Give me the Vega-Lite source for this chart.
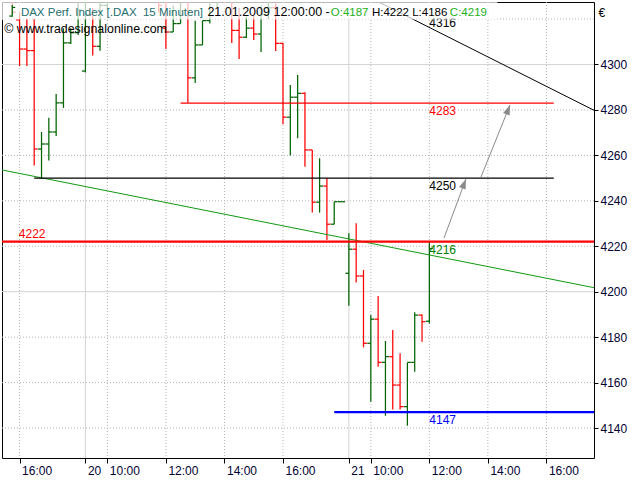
{
  "$schema": "https://vega.github.io/schema/vega-lite/v6.json",
  "width": 592,
  "height": 456,
  "autosize": {"type": "none"},
  "padding": {"left": 2, "top": 2, "right": 46, "bottom": 22},
  "background": "white",
  "config": {"view": {"stroke": "black", "strokeWidth": 1}},
  "datasets": {
    "bars": [
      {"i": -57, "o": 4329, "h": 4331, "l": 4322, "c": 4323},
      {"i": -56, "o": 4319.6, "h": 4323, "l": 4299.3, "c": 4306.8},
      {"i": -55, "o": 4306.8, "h": 4320, "l": 4299.3, "c": 4306.1},
      {"i": -54, "o": 4306.1, "h": 4320, "l": 4255.5, "c": 4262.8},
      {"i": -53, "o": 4262.8, "h": 4270.3, "l": 4249.6, "c": 4265.0},
      {"i": -52, "o": 4265.0, "h": 4276.5, "l": 4257.7, "c": 4270.3},
      {"i": -51, "o": 4270.3, "h": 4287.0, "l": 4268.5, "c": 4283.1},
      {"i": -50, "o": 4283.1, "h": 4315.9, "l": 4280.9, "c": 4309.5},
      {"i": -49, "o": 4309.5, "h": 4316, "l": 4309, "c": 4314},
      {"i": -48, "o": 4314, "h": 4329, "l": 4313, "c": 4324},
      {"i": -47, "o": 4297.1, "h": 4330, "l": 4296.5, "c": 4322},
      {"i": -46, "o": 4322, "h": 4325, "l": 4303.9, "c": 4308},
      {"i": -45, "o": 4308, "h": 4330, "l": 4306, "c": 4326},
      {"i": -44, "o": 4326, "h": 4338, "l": 4324, "c": 4335},
      {"i": -43, "o": 4335, "h": 4340, "l": 4330, "c": 4333},
      {"i": -42, "o": 4333, "h": 4342, "l": 4331, "c": 4340},
      {"i": -41, "o": 4340, "h": 4344, "l": 4334, "c": 4336},
      {"i": -40, "o": 4336, "h": 4339, "l": 4329, "c": 4331},
      {"i": -39, "o": 4331, "h": 4337, "l": 4328, "c": 4335},
      {"i": -38, "o": 4335, "h": 4338, "l": 4329, "c": 4332},
      {"i": -37, "o": 4332, "h": 4334, "l": 4323, "c": 4326},
      {"i": -36, "o": 4316, "h": 4330, "l": 4306.8, "c": 4314.3},
      {"i": -35, "o": 4314.3, "h": 4326, "l": 4314.3, "c": 4318},
      {"i": -34, "o": 4318, "h": 4332, "l": 4318, "c": 4329},
      {"i": -33, "o": 4329, "h": 4331, "l": 4283.2, "c": 4294.1},
      {"i": -32, "o": 4294.1, "h": 4319.3, "l": 4291.9, "c": 4308.6},
      {"i": -31, "o": 4308.6, "h": 4319.3, "l": 4308.6, "c": 4319.3},
      {"i": -30, "o": 4319.3, "h": 4332, "l": 4318, "c": 4328},
      {"i": -29, "o": 4328, "h": 4336, "l": 4325, "c": 4333},
      {"i": -28, "o": 4333, "h": 4337, "l": 4327, "c": 4330},
      {"i": -27, "o": 4330, "h": 4333, "l": 4309.5, "c": 4315},
      {"i": -26, "o": 4315, "h": 4325, "l": 4302.4, "c": 4312},
      {"i": -25, "o": 4312, "h": 4321, "l": 4311.7, "c": 4316},
      {"i": -24, "o": 4316, "h": 4322, "l": 4310.8, "c": 4313.4},
      {"i": -23, "o": 4313.4, "h": 4326, "l": 4305.5, "c": 4322},
      {"i": -22, "o": 4322, "h": 4330, "l": 4320, "c": 4325},
      {"i": -21, "o": 4325, "h": 4327, "l": 4305.9, "c": 4309.3},
      {"i": -20, "o": 4309.3, "h": 4309.5, "l": 4273.7, "c": 4276.8},
      {"i": -19, "o": 4276.8, "h": 4291.0, "l": 4259.9, "c": 4285.6},
      {"i": -18, "o": 4285.6, "h": 4295.4, "l": 4267.5, "c": 4287.3},
      {"i": -17, "o": 4287.3, "h": 4287.8, "l": 4255.0, "c": 4262.4},
      {"i": -16, "o": 4262.4, "h": 4262.4, "l": 4234.8, "c": 4239.4},
      {"i": -15, "o": 4239.4, "h": 4258.7, "l": 4234.8, "c": 4246.5},
      {"i": -14, "o": 4246.5, "h": 4249.9, "l": 4222.8, "c": 4229.7},
      {"i": -13, "o": 4229.7, "h": 4239.6, "l": 4229.7, "c": 4239.6},
      {"i": -12, "o": 4239.6, "h": 4239.6, "l": 4239.6, "c": 4239.6},
      {"i": -11, "o": 4208.1, "h": 4225.7, "l": 4193.8, "c": 4218.7},
      {"i": -10, "o": 4218.7, "h": 4230.1, "l": 4204.0, "c": 4206.9},
      {"i": -9, "o": 4206.9, "h": 4209.6, "l": 4175.5, "c": 4177.3},
      {"i": -8, "o": 4177.3, "h": 4189.7, "l": 4151.6, "c": 4187.9},
      {"i": -7, "o": 4187.9, "h": 4198.1, "l": 4167.0, "c": 4168.9},
      {"i": -6, "o": 4168.9, "h": 4178.3, "l": 4145.4, "c": 4171.4},
      {"i": -5, "o": 4171.4, "h": 4183.1, "l": 4148.2, "c": 4158.9},
      {"i": -4, "o": 4158.9, "h": 4172.9, "l": 4148.2, "c": 4149.4},
      {"i": -3, "o": 4149.4, "h": 4168.8, "l": 4141.0, "c": 4168.9},
      {"i": -2, "o": 4168.9, "h": 4190.9, "l": 4164.8, "c": 4189.7},
      {"i": -1, "o": 4189.7, "h": 4190.0, "l": 4178.0, "c": 4186.8},
      {"i": 0, "o": 4187, "h": 4222, "l": 4186, "c": 4219}
    ],
    "icon": [{"i": -57, "o": 4321.3, "h": 4326.2, "l": 4321.0, "c": 4325.1}],
    "hgridDot": [{"v": 4140}, {"v": 4160}, {"v": 4180}, {"v": 4220}, {"v": 4240}, {"v": 4260}, {"v": 4280}, {"v": 4320}],
    "hgridSolid": [{"v": 4200}, {"v": 4300}],
    "vgridDot": [{"v": -56}, {"v": -44}, {"v": -36}, {"v": -28}, {"v": -20}, {"v": -8}, {"v": 0}, {"v": 8}, {"v": 16}],
    "vgridSolid": [{"v": -47}, {"v": -11}],
    "trendGreen": [{"i": -60, "p": 4254.6}, {"i": 24, "p": 4200.8}],
    "trendBlack": [{"i": -10, "p": 4332.5}, {"i": 24, "p": 4277.4}],
    "arrows": [
      {"id": 1, "end": 0, "i": 2.0, "p": 4223.6},
      {"id": 1, "end": 1, "i": 5.0, "p": 4249.6},
      {"id": 2, "end": 0, "i": 7.05, "p": 4250.4},
      {"id": 2, "end": 1, "i": 11.02, "p": 4282.2}
    ]
  },
  "layer": [
    {
      "data": {"name": "hgridDot"},
      "mark": {"type": "rule", "color": "#b4b4b4", "strokeWidth": 1, "strokeDash": [1, 2]},
      "encoding": {
        "y": {
          "field": "v", "type": "quantitative",
          "scale": {"domain": [4126.8, 4327.5], "nice": false, "zero": false},
          "axis": {
            "orient": "right",
            "values": [4140, 4160, 4180, 4200, 4220, 4240, 4260, 4280, 4300],
            "format": "d",
            "title": "€", "titleAngle": 0, "titleX": 4, "titleY": 14, "titleAlign": "left",
            "titleBaseline": "alphabetic", "titleFontWeight": "normal", "titleFontSize": 12, "titleColor": "#000000",
            "titleFont": "Liberation Sans",
            "domain": false, "grid": false, "tickSize": 4, "tickColor": "#000000",
            "labelFont": "Liberation Sans", "labelFontSize": 12, "labelColor": "#000033", "labelPadding": 2,
            "labelFlush": false, "labelOverlap": false
          }
        }
      }
    },
    {
      "data": {"name": "hgridSolid"},
      "mark": {"type": "rule", "color": "#d3d3d3", "strokeWidth": 1},
      "encoding": {"y": {"field": "v", "type": "quantitative"}}
    },
    {
      "data": {"name": "vgridDot"},
      "mark": {"type": "rule", "color": "#b4b4b4", "strokeWidth": 1, "strokeDash": [1, 2]},
      "encoding": {
        "x": {
          "field": "v", "type": "quantitative",
          "scale": {"domain": [-58.4, 22.5], "nice": false, "zero": false},
          "axis": {
            "values": [-56, -47, -44, -36, -28, -20, -11, -8, 0, 8, 16],
            "labelExpr": "datum.value == -56 ? '16:00' : datum.value == -47 ? '20' : datum.value == -44 ? '10:00' : datum.value == -36 ? '12:00' : datum.value == -28 ? '14:00' : datum.value == -20 ? '16:00' : datum.value == -11 ? '21' : datum.value == -8 ? '10:00' : datum.value == 0 ? '12:00' : datum.value == 8 ? '14:00' : '16:00'",
            "title": null, "domain": false, "grid": false, "tickSize": 5, "tickColor": "#000000",
            "labelAlign": "left", "labelBaseline": "top", "labelOffset": 2, "labelPadding": 2,
            "labelFont": "Liberation Sans", "labelFontSize": 12, "labelColor": "#000033",
            "labelFlush": false, "labelOverlap": false
          }
        }
      }
    },
    {
      "data": {"name": "vgridSolid"},
      "mark": {"type": "rule", "color": "#d3d3d3", "strokeWidth": 1},
      "encoding": {"x": {"field": "v", "type": "quantitative"}}
    },
    {
      "data": {"name": "bars"},
      "mark": {"type": "rule", "strokeWidth": 1.25, "clip": true},
      "encoding": {
        "x": {"field": "i", "type": "quantitative"},
        "y": {"field": "l", "type": "quantitative"},
        "y2": {"field": "h"},
        "color": {"condition": {"test": "datum.c >= datum.o", "value": "#006400"}, "value": "#ff0000"}
      }
    },
    {
      "data": {"name": "bars"},
      "mark": {"type": "point", "shape": "M-1,0L0,0", "size": 49, "filled": false, "strokeWidth": 1.25, "opacity": 1, "clip": true},
      "encoding": {
        "x": {"field": "i", "type": "quantitative"},
        "y": {"field": "o", "type": "quantitative"},
        "color": {"condition": {"test": "datum.c >= datum.o", "value": "#006400"}, "value": "#ff0000"}
      }
    },
    {
      "data": {"name": "bars"},
      "mark": {"type": "point", "shape": "M0,0L1,0", "size": 49, "filled": false, "strokeWidth": 1.25, "opacity": 1, "clip": true},
      "encoding": {
        "x": {"field": "i", "type": "quantitative"},
        "y": {"field": "c", "type": "quantitative"},
        "color": {"condition": {"test": "datum.c >= datum.o", "value": "#006400"}, "value": "#ff0000"}
      }
    },
    {
      "data": {"name": "trendGreen"},
      "mark": {"type": "line", "color": "#119911", "strokeWidth": 1, "clip": true},
      "encoding": {
        "x": {"field": "i", "type": "quantitative"},
        "y": {"field": "p", "type": "quantitative"}
      }
    },
    {
      "data": {"name": "trendBlack"},
      "mark": {"type": "line", "color": "#000000", "strokeWidth": 1, "clip": true},
      "encoding": {
        "x": {"field": "i", "type": "quantitative"},
        "y": {"field": "p", "type": "quantitative"}
      }
    },
    {
      "data": {"values": [{"level": 4283, "start": -34, "end": 17}]},
      "layer": [
        {
          "mark": {"type": "rule", "color": "#ff0000", "strokeWidth": 1.3, "clip": true},
          "encoding": {
            "x": {"field": "start", "type": "quantitative"},
            "x2": {"field": "end"},
            "y": {"field": "level", "type": "quantitative"}
          }
        },
        {
          "mark": {"type": "text", "color": "#ff0000", "font": "Liberation Sans", "fontSize": 12, "align": "left", "baseline": "top", "dy": 3},
          "encoding": {
            "x": {"datum": 0, "type": "quantitative"},
            "y": {"field": "level", "type": "quantitative"},
            "text": {"field": "level", "type": "quantitative", "format": "d"}
          }
        }
      ]
    },
    {
      "data": {"values": [{"level": 4250, "start": -54, "end": 17}]},
      "layer": [
        {
          "mark": {"type": "rule", "color": "#000000", "strokeWidth": 1.3, "clip": true},
          "encoding": {
            "x": {"field": "start", "type": "quantitative"},
            "x2": {"field": "end"},
            "y": {"field": "level", "type": "quantitative"}
          }
        },
        {
          "mark": {"type": "text", "color": "#000000", "font": "Liberation Sans", "fontSize": 12, "align": "left", "baseline": "top", "dy": 3},
          "encoding": {
            "x": {"datum": 0, "type": "quantitative"},
            "y": {"field": "level", "type": "quantitative"},
            "text": {"field": "level", "type": "quantitative", "format": "d"}
          }
        }
      ]
    },
    {
      "data": {"values": [{"level": 4222, "start": -60, "end": 25}]},
      "layer": [
        {
          "mark": {"type": "rule", "color": "#ff0000", "strokeWidth": 2.2, "clip": true},
          "encoding": {
            "x": {"field": "start", "type": "quantitative"},
            "x2": {"field": "end"},
            "y": {"field": "level", "type": "quantitative"}
          }
        },
        {
          "mark": {"type": "text", "color": "#ff0000", "font": "Liberation Sans", "fontSize": 12, "align": "left", "baseline": "alphabetic", "dy": -4},
          "encoding": {
            "x": {"datum": -56.1, "type": "quantitative"},
            "y": {"field": "level", "type": "quantitative"},
            "text": {"field": "level", "type": "quantitative", "format": "d"}
          }
        }
      ]
    },
    {
      "data": {"values": [{"level": 4147, "start": -13, "end": 25}]},
      "layer": [
        {
          "mark": {"type": "rule", "color": "#0000ff", "strokeWidth": 2.2, "clip": true},
          "encoding": {
            "x": {"field": "start", "type": "quantitative"},
            "x2": {"field": "end"},
            "y": {"field": "level", "type": "quantitative"}
          }
        },
        {
          "mark": {"type": "text", "color": "#0000ff", "font": "Liberation Sans", "fontSize": 12, "align": "left", "baseline": "top", "dy": 3},
          "encoding": {
            "x": {"datum": 0, "type": "quantitative"},
            "y": {"field": "level", "type": "quantitative"},
            "text": {"field": "level", "type": "quantitative", "format": "d"}
          }
        }
      ]
    },
    {
      "data": {"name": "arrows"},
      "mark": {"type": "line", "color": "#8a8a8a", "strokeWidth": 1, "clip": true},
      "encoding": {
        "x": {"field": "i", "type": "quantitative"},
        "y": {"field": "p", "type": "quantitative"},
        "detail": {"field": "id"}
      }
    },
    {
      "data": {"name": "arrows"},
      "transform": [{"filter": "datum.end == 1"}],
      "mark": {"type": "point", "shape": "M0,0L-0.35,1L0.35,1Z", "size": 400, "filled": true, "color": "#8a8a8a", "opacity": 1, "angle": 21},
      "encoding": {
        "x": {"field": "i", "type": "quantitative"},
        "y": {"field": "p", "type": "quantitative"}
      }
    },
    {
      "data": {"values": [{"value": "4216"}]},
      "mark": {"type": "text", "color": "#008000", "font": "Liberation Sans", "fontSize": 12, "align": "left", "baseline": "alphabetic", "dy": -1},
      "encoding": {
        "x": {"datum": 0, "type": "quantitative"},
        "y": {"datum": 4216.2, "type": "quantitative"},
        "text": {"field": "value"}
      }
    },
    {
      "data": {"values": [{"value": "4316"}]},
      "mark": {"type": "text", "color": "#000000", "font": "Liberation Sans", "fontSize": 12, "align": "left", "baseline": "alphabetic", "dy": 0},
      "encoding": {
        "x": {"datum": 0, "type": "quantitative"},
        "y": {"datum": 4316.3, "type": "quantitative"},
        "text": {"field": "value"}
      }
    },
    {
      "data": {"values": [{"band": "legend"}]},
      "mark": {"type": "rect", "color": "#ffffff", "opacity": 0.72, "clip": true},
      "encoding": {
        "x": {"datum": -60, "type": "quantitative"},
        "x2": {"datum": 9.3},
        "y": {"datum": 4319.8, "type": "quantitative"},
        "y2": {"datum": 4335}
      }
    },
    {
      "data": {"name": "icon"},
      "mark": {"type": "rule", "strokeWidth": 1.25, "color": "#006400", "clip": true},
      "encoding": {
        "x": {"field": "i", "type": "quantitative"},
        "y": {"field": "l", "type": "quantitative"},
        "y2": {"field": "h"}
      }
    },
    {
      "data": {"name": "icon"},
      "mark": {"type": "point", "shape": "M-1,0L0,0", "size": 36, "filled": false, "strokeWidth": 1.25, "opacity": 1, "color": "#006400", "clip": true},
      "encoding": {
        "x": {"field": "i", "type": "quantitative"},
        "y": {"field": "o", "type": "quantitative"}
      }
    },
    {
      "data": {"name": "icon"},
      "mark": {"type": "point", "shape": "M0,0L1,0", "size": 36, "filled": false, "strokeWidth": 1.25, "opacity": 1, "color": "#006400", "clip": true},
      "encoding": {
        "x": {"field": "i", "type": "quantitative"},
        "y": {"field": "c", "type": "quantitative"}
      }
    },
    {
      "data": {"values": [{"t": "DAX Perf. Index [.DAX\u00a0 15 Minuten]"}]},
      "mark": {"type": "text", "color": "#246e6e", "font": "Liberation Sans", "fontSize": 11.5, "align": "left", "baseline": "alphabetic"},
      "encoding": {
        "x": {"datum": -55.82, "type": "quantitative"},
        "y": {"datum": 4321.4, "type": "quantitative"},
        "text": {"field": "t"}
      }
    },
    {
      "data": {"values": [{"t": "21.01.2009 12:00:00 -"}]},
      "mark": {"type": "text", "color": "#000000", "font": "Liberation Sans", "fontSize": 12.5, "align": "left", "baseline": "alphabetic"},
      "encoding": {
        "x": {"datum": -30.33, "type": "quantitative"},
        "y": {"datum": 4321.4, "type": "quantitative"},
        "text": {"field": "t"}
      }
    },
    {
      "data": {"values": [{"t": "O:4187"}]},
      "mark": {"type": "text", "color": "#1cb01c", "font": "Liberation Sans", "fontSize": 11.5, "align": "left", "baseline": "alphabetic"},
      "encoding": {
        "x": {"datum": -13.47, "type": "quantitative"},
        "y": {"datum": 4321.4, "type": "quantitative"},
        "text": {"field": "t"}
      }
    },
    {
      "data": {"values": [{"t": "H:4222 L:4186"}]},
      "mark": {"type": "text", "color": "#000000", "font": "Liberation Sans", "fontSize": 11.5, "align": "left", "baseline": "alphabetic"},
      "encoding": {
        "x": {"datum": -7.85, "type": "quantitative"},
        "y": {"datum": 4321.4, "type": "quantitative"},
        "text": {"field": "t"}
      }
    },
    {
      "data": {"values": [{"t": "C:4219"}]},
      "mark": {"type": "text", "color": "#1cb01c", "font": "Liberation Sans", "fontSize": 11.5, "align": "left", "baseline": "alphabetic"},
      "encoding": {
        "x": {"datum": 2.8, "type": "quantitative"},
        "y": {"datum": 4321.4, "type": "quantitative"},
        "text": {"field": "t"}
      }
    },
    {
      "data": {"values": [{"t": "© www.tradesignalonline.com"}]},
      "mark": {"type": "text", "color": "#000000", "font": "Liberation Sans", "fontSize": 12.4, "align": "left", "baseline": "alphabetic"},
      "encoding": {
        "x": {"datum": -58.1, "type": "quantitative"},
        "y": {"datum": 4313.9, "type": "quantitative"},
        "text": {"field": "t"}
      }
    }
  ]
}
